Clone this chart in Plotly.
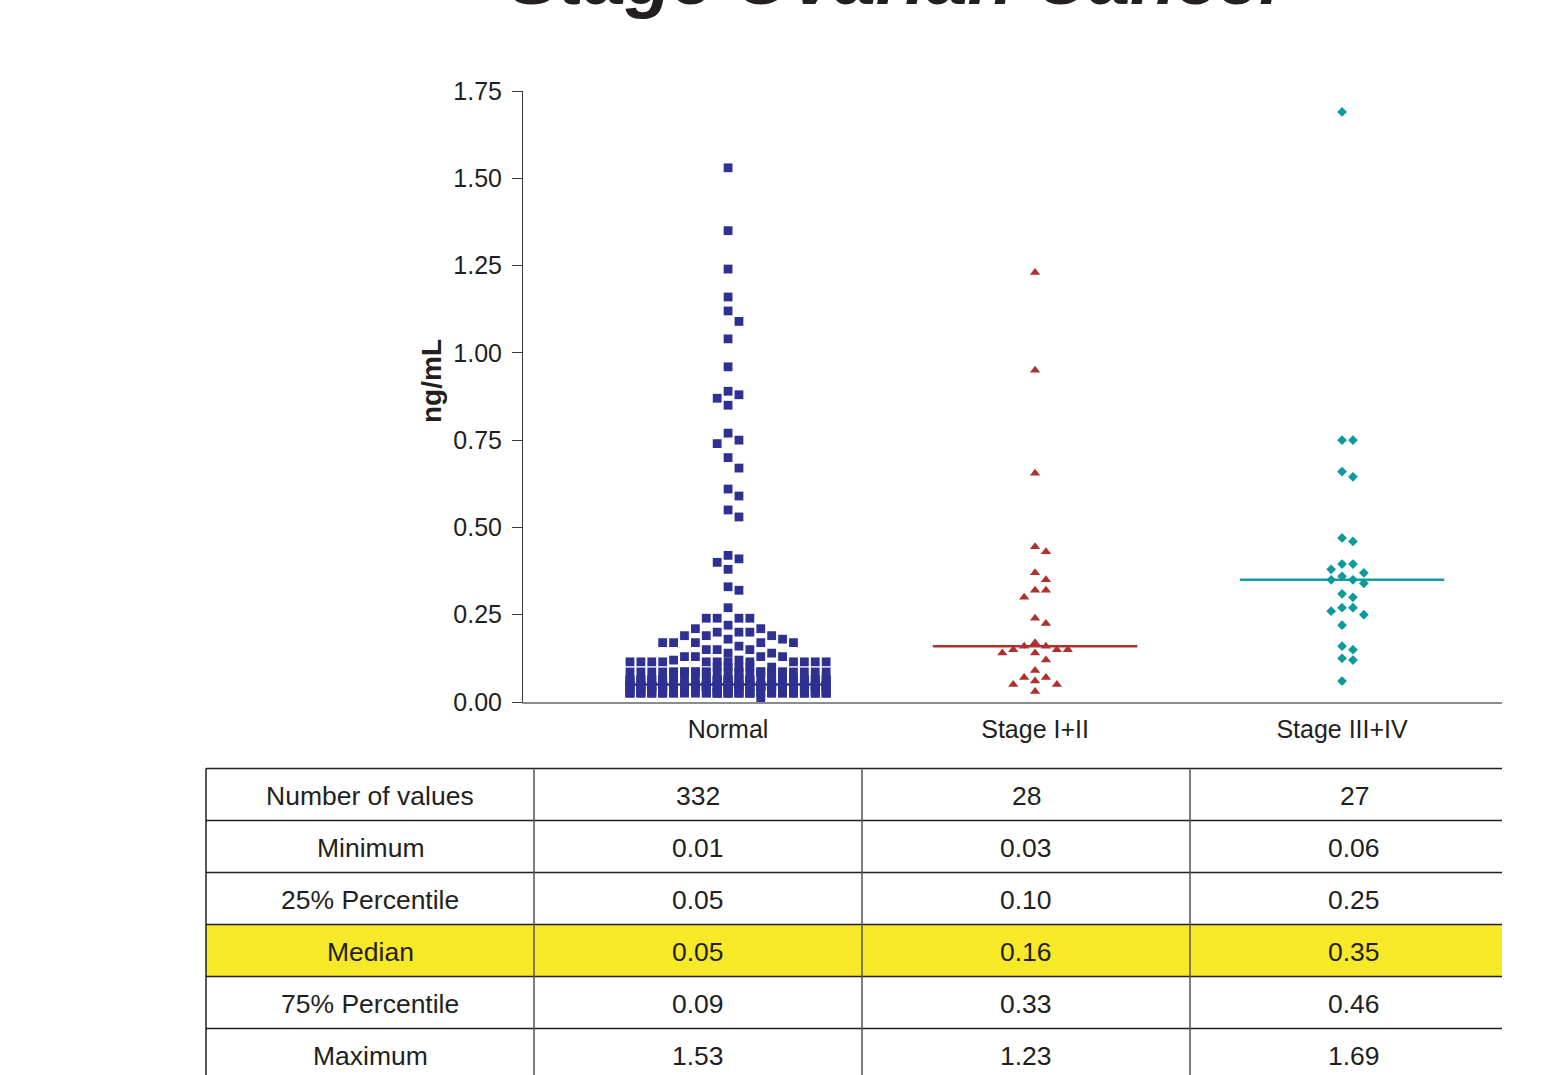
import plotly.graph_objects as go

# ---------------- data ----------------
CATEGORIES = ["Normal", "Stage I+II", "Stage III+IV"]

# Normal group: dense low band read as a value/count frequency table + sparse points
NORMAL_BAND_VALUES = [0.01, 0.026, 0.046, 0.063, 0.086, 0.10, 0.115]
NORMAL_BAND_COUNTS = [1, 70, 104, 50, 30, 5, 12]
NORMAL_SPARSE = [1.53, 1.35, 1.24, 1.16, 1.12, 1.09, 1.04, 0.96, 0.89, 0.88, 0.87, 0.85,
                 0.77, 0.75, 0.74, 0.70, 0.67, 0.61, 0.59, 0.55, 0.53, 0.42, 0.41, 0.40,
                 0.38, 0.33, 0.32, 0.27, 0.24, 0.24, 0.24, 0.24, 0.22, 0.21, 0.21,
                 0.20, 0.20, 0.20, 0.19, 0.19, 0.19, 0.18, 0.18, 0.17, 0.17, 0.17, 0.17, 0.17,
                 0.16, 0.15, 0.15, 0.15, 0.14, 0.14, 0.13, 0.13, 0.13, 0.13, 0.12, 0.12]

STAGE12 = [1.23, 0.95, 0.655, 0.445, 0.43, 0.37, 0.35, 0.32, 0.32, 0.30, 0.24, 0.225,
           0.17, 0.16, 0.16, 0.15, 0.15, 0.15, 0.14, 0.14, 0.12, 0.09, 0.07, 0.07,
           0.06, 0.05, 0.05, 0.03]

STAGE34 = [1.69, 0.75, 0.75, 0.66, 0.645, 0.47, 0.46, 0.395, 0.395, 0.38, 0.37, 0.36,
           0.35, 0.35, 0.34, 0.31, 0.30, 0.27, 0.27, 0.26, 0.25, 0.22, 0.16, 0.15,
           0.125, 0.12, 0.06]

MEDIANS = [0.05, 0.16, 0.35]

Y_TICKS = [0.00, 0.25, 0.50, 0.75, 1.00, 1.25, 1.50, 1.75]

ROW_LABELS = ["Number of values", "Minimum", "25% Percentile", "Median",
              "75% Percentile", "Maximum"]
NORMAL_STATS = ["332", "0.01", "0.05", "0.05", "0.09", "1.53"]
STAGE12_STATS = ["28", "0.03", "0.10", "0.16", "0.33", "1.23"]
STAGE34_STATS = ["27", "0.06", "0.25", "0.35", "0.46", "1.69"]
HIGHLIGHT_ROW = "Median"

TITLE = "Stage Ovarian Cancer"
Y_TITLE = "ng/mL"

# ---------------- styling ----------------
C_NORMAL = "#2e3192"
C_STAGE12 = "#b0302e"
C_STAGE34 = "#0d9a9b"
C_LINE34 = "#1b9aa5"
TXT = "#231f20"
FONT = "Liberation Sans, Arial, Helvetica, sans-serif"

# layout geometry (pixels)
FIG_W, FIG_H = 1560, 1075
L, R, T, B = 523, 58, 91, 373
PW = FIG_W - L - R
PH = FIG_H - T - B


def px(xp):
    return (xp - L) / PW


def py(yp):
    return (T + PH - yp) / PH


def swarm(values, thr, max_side):
    cand = [0]
    for k in range(1, max_side + 1):
        cand += [k, -k]
    placed = {c: [] for c in cand}
    cols = [0] * len(values)
    order = sorted(range(len(values)), key=lambda i: -values[i])
    for i in order:
        v = values[i]
        best, best_n = None, None
        for c in cand:
            n = sum(1 for pv in placed[c] if abs(pv - v) < thr - 1e-9)
            if n == 0:
                best = c
                break
            if best_n is None or n < best_n:
                best, best_n = c, n
        placed[best].append(v)
        cols[i] = best
    return cols


STEP = 0.0355
HALF_MED = 0.333

normal_vals = list(NORMAL_SPARSE)
for v, n in zip(NORMAL_BAND_VALUES, NORMAL_BAND_COUNTS):
    normal_vals += [v] * n

groups = [
    (normal_vals, C_NORMAL, C_NORMAL, "square", 8.8, 0.0305, 9),
    (STAGE12, C_STAGE12, C_STAGE12, "triangle-up", 9, 0.026, 4),
    (STAGE34, C_STAGE34, C_LINE34, "diamond", 7.5, 0.026, 4),
]

fig = go.Figure()

for gi, (vals, mcol, lcol, sym, size, thr, side) in enumerate(groups):
    fig.add_trace(go.Scatter(
        x=[gi - HALF_MED, gi + HALF_MED], y=[MEDIANS[gi], MEDIANS[gi]],
        mode="lines", line=dict(color=lcol, width=2.5),
        hoverinfo="skip", showlegend=False, cliponaxis=False))

for gi, (vals, mcol, lcol, sym, size, thr, side) in enumerate(groups):
    cols = swarm(vals, thr, side)
    fig.add_trace(go.Scatter(
        x=[gi + c * STEP for c in cols], y=vals, mode="markers",
        marker=dict(symbol=sym, size=size, color=mcol, line=dict(width=0)),
        name=CATEGORIES[gi], showlegend=False, cliponaxis=False))

fig.update_layout(
    width=FIG_W, height=FIG_H,
    margin=dict(l=L, r=R, t=T, b=B),
    paper_bgcolor="white", plot_bgcolor="white",
    showlegend=False,
    font=dict(family=FONT, color=TXT),
)

fig.update_xaxes(
    range=[-0.668, 2.521], showgrid=False, zeroline=False,
    showline=True, linecolor="#8c8c8c", linewidth=1.5,
    tickmode="array", tickvals=list(range(len(CATEGORIES))), ticktext=CATEGORIES,
    ticks="", tickfont=dict(family=FONT, size=25, color=TXT),
    ticklabelstandoff=4,
)
fig.update_yaxes(
    range=[0, 1.75], showgrid=False, zeroline=False,
    showline=True, linecolor="#3a3a3a", linewidth=1,
    tickmode="array", tickvals=Y_TICKS, ticktext=[f"{t:.2f}" for t in Y_TICKS],
    ticks="outside", ticklen=10, tickwidth=1, tickcolor="#3a3a3a",
    tickfont=dict(family=FONT, size=25, color=TXT),
    ticklabelstandoff=5,
)

annotations = []
shapes = []

# title (mostly cut off by top edge as in the reference)
annotations.append(dict(
    text=f"<b><i>{TITLE}</i></b>", x=px(900), y=py(21.5), xref="paper", yref="paper",
    xanchor="center", yanchor="bottom", showarrow=False,
    font=dict(family=FONT, size=75, color=TXT)))

# y-axis title
annotations.append(dict(
    text=f"<b>{Y_TITLE}</b>", x=px(431), y=py(381), xref="paper", yref="paper",
    xanchor="center", yanchor="middle", showarrow=False, textangle=-90,
    font=dict(family=FONT, size=28, color=TXT)))

# ---------------- stats table ----------------
TAB_X = [206, 534, 862, 1190]
TAB_RIGHT = 1502
COL_CENTERS = [370, 698, 1026, 1354]
ROW_TOP = 768.5
ROW_H = 52

table_cols = [ROW_LABELS, NORMAL_STATS, STAGE12_STATS, STAGE34_STATS]
for r, label in enumerate(ROW_LABELS):
    y0 = ROW_TOP + r * ROW_H
    if label == HIGHLIGHT_ROW:
        shapes.append(dict(type="rect", xref="paper", yref="paper",
                           x0=px(TAB_X[0]), x1=px(TAB_RIGHT), y0=py(y0), y1=py(y0 + ROW_H),
                           fillcolor="#f7e928", line=dict(width=0), layer="below"))
    for c, col in enumerate(table_cols):
        annotations.append(dict(
            text=col[r], x=px(COL_CENTERS[c]), y=py(y0 + ROW_H / 2 + 1.5),
            xref="paper", yref="paper", xanchor="center", yanchor="middle",
            showarrow=False,
            font=dict(family=FONT, size=26.5, color=TXT)))

for r in range(len(ROW_LABELS)):
    yl = ROW_TOP + r * ROW_H
    shapes.append(dict(type="line", xref="paper", yref="paper",
                       x0=px(TAB_X[0]), x1=px(TAB_RIGHT), y0=py(yl), y1=py(yl),
                       line=dict(color="#231f20", width=1.5)))
for i, xv in enumerate(TAB_X):
    shapes.append(dict(type="line", xref="paper", yref="paper",
                       x0=px(xv), x1=px(xv), y0=py(ROW_TOP), y1=py(FIG_H + 20),
                       line=dict(color="#231f20" if i == 0 else "#555555", width=1.5)))

fig.update_layout(annotations=annotations, shapes=shapes)

fig.write_html("out.html")
